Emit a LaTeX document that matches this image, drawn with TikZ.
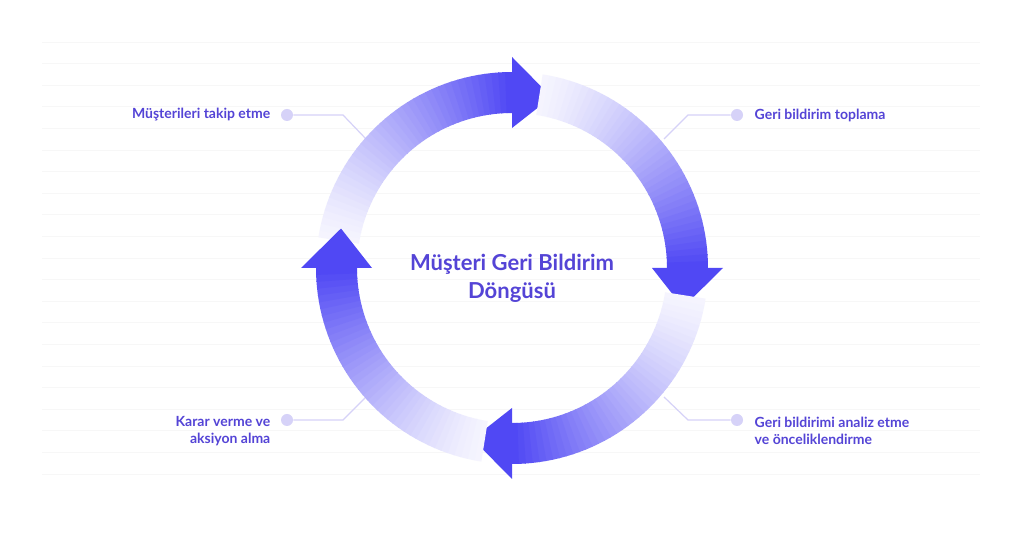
\documentclass[tikz,border=0pt]{standalone}
\usepackage{fontspec}
\setmainfont{Lato}
\definecolor{ind}{RGB}{80,72,244}
\definecolor{txtind}{RGB}{84,68,214}
\definecolor{dotlav}{RGB}{214,210,248}
\tikzset{
  label text/.style={text=txtind,font=\bfseries\fontsize{10.5}{13}\selectfont,align=#1},
  label dot/.style={circle,fill=dotlav,inner sep=0pt,minimum size=9pt},
  leader/.style={draw=dotlav,line width=0.9pt},
}
% one arrow of the loop, head tip at angle #1
\newcommand{\loopArrow}[1]{
  \pgfmathsetmacro{\tip}{#1}
  \foreach \k in {0,...,39} {
    \pgfmathsetmacro{\aS}{\tip+94-\k*2.025}
    \pgfmathsetmacro{\aE}{\aS-2.3}
    \pgfmathsetmacro{\pc}{6+94*(\k/39)^1.3}
    \fill[ind!\pc!white] ($(c)+(\aS:155)$) arc (\aS:\aE:155) -- ($(c)+(\aE:196)$) arc (\aE:\aS:196) -- cycle;
  }
  \fill[ind] ($(c)+(\tip+13:140)$) -- ($(c)+(\tip+13:211)$) -- ($(c)+(\tip:175.5)$) -- cycle;
}
\usetikzlibrary{calc}
\begin{document}
\begin{tikzpicture}[x=0.75pt,y=0.75pt]
\useasboundingbox[fill=white] (0,0) rectangle (1024,538);
\foreach \j in {0,...,20}
  \draw[black!3,line width=0.5pt] (42,{496-\j*21.6}) -- (980,{496-\j*21.6});
\coordinate (c) at (512,270);
% connectors
\node[label dot] (d1) at (287,423) {};
\node[label dot] (d2) at (737,423) {};
\node[label dot] (d3) at (737,118) {};
\node[label dot] (d4) at (287,118) {};
\coordinate (k1) at (343,423); \coordinate (e1) at (366,399);
\coordinate (k2) at (688,423); \coordinate (e2) at (664,399);
\coordinate (k3) at (688,118); \coordinate (e3) at (664,141);
\coordinate (k4) at (343,118); \coordinate (e4) at (366,141);
\draw[leader] (d1) -- (k1) -- (e1);
\draw[leader] (d2) -- (k2) -- (e2);
\draw[leader] (d3) -- (k3) -- (e3);
\draw[leader] (d4) -- (k4) -- (e4);
% the four arrows
\loopArrow{77}
\loopArrow{-13}
\loopArrow{-103}
\loopArrow{-193}
% texts
\node[label text=right,anchor=east] (t1) at (275,423) {Müşterileri takip etme};
\node[label text=left,anchor=west] (t2) at (750,423) {Geri bildirim toplama};
\node[label text=left,anchor=west] (t3) at (750,107) {Geri bildirimi analiz etme\\ve önceliklendirme};
\node[label text=right,anchor=east] (t4) at (275,107) {Karar verme ve\\aksiyon alma};
\node[text=txtind,font=\bfseries\fontsize{16.5}{21}\selectfont,align=center] (title) at (512,260) {Müşteri Geri Bildirim\\Döngüsü};
\end{tikzpicture}
\end{document}
